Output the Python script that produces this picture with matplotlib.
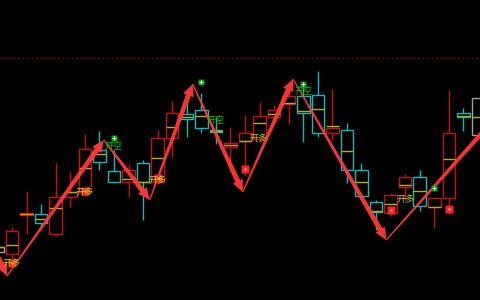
import numpy as np
import matplotlib
matplotlib.use("Agg")
from matplotlib import pyplot as plt
from matplotlib.patches import Rectangle, Polygon
from matplotlib.transforms import IdentityTransform

plt.rcParams['font.family'] = ['Noto Sans CJK SC', 'DejaVu Sans']

# candle data (price units), 'r' = up (red), 'c' = down (cyan), 'g' = flat
kind = ['g', 'r', 'r', 'c', 'r', 'r', 'r', 'c', 'c', 'r', 'c', 'r', 'r', 'c', 'c', 'c', 'r',
        'r', 'r', 'r', 'r', 'c', 'c', 'r', 'c', 'c', 'c', 'r', 'r', 'c', 'r', 'r', 'c', 'g']
body_top = [53, 69, 87, 86, 103, 108, 151, 150, 129, 130, 137, 162, 187, 186, 190, 170, 157,
            167, 184, 190, 204, 204, 205, 172, 170, 130, 98, 105, 123, 123, 102, 167, 187, 202]
body_bot = [48, 46, 85, 77, 66, 103, 108, 138, 118, 118, 118, 118, 162, 181, 172, 168, 153,
            159, 161, 183, 196, 187, 167, 167, 130, 104, 88, 87, 113, 94, 93, 102, 183, 165]
high = [55, 73, 109, 96, 137, 128, 166, 169, 150, 135, 140, 170, 199, 198, 207, 183, 173,
        185, 198, 195, 215, 215, 229, 211, 177, 137, 100, 107, 126, 130, 102, 210, 192, 202]
low = [45, 38, 66, 72, 65, 93, 108, 130, 117, 103, 80, 117, 143, 163, 167, 156, 128,
       124, 159, 176, 176, 158, 163, 160, 117, 100, 70, 84, 100, 89, 72, 86, 169, 165]
avg_line = [53, 55, 86, 81, 92, 108, 132, 146, np.nan, 121, 118, 142, 173, 183, 184, 169, 155,
            159, 177, 186, 197, 189, 191, 174, 149, 118, 89, 96, 115, 109, 93, 141, 184, 183]

# zigzag pivots (candle index, price)
zz_x = [-0.6, 0.65, 7.3, 10.45, 13.4, 16.85, 20.3, 26.7, 34.5]
zz_y = [64, 24, 160, 100, 216, 108, 221, 60, 187]

# signals
buy_x = [1, 6, 11, 17, 27, 31]
buy_y = [37, 109, 122, 131, 90, 91]
sell_x = [8, 14, 21, 30]
sell_y = [162, 218, 216, 112]
label_x = [0.95, 6.0, 8.0, 11.0, 15.0, 17.95, 21.05, 28.05]
label_y = [37, 108, 154, 120, 180, 162, 209, 101]
label_txt = ['开多', '开多', '开空', '开多', '开空', '开多', '开空', '开多']

LEVEL = 242

RED = '#c81010'
CYAN = '#10b8c0'
GREY = '#a0a0a0'
ARROW = '#ff3838'


def draw_candles(ax):
    colors = {'r': RED, 'c': CYAN, 'g': GREY}
    w = 0.86
    for i in range(len(kind)):
        col = colors[kind[i]]
        ax.vlines(i, low[i], high[i], color=col, lw=1, zorder=1)
        ax.add_patch(Rectangle((i - w / 2, body_bot[i]), w, body_top[i] - body_bot[i],
                               facecolor='black', edgecolor=col, lw=1, zorder=2))
        if not np.isnan(avg_line[i]):
            ax.hlines(avg_line[i], i - w / 2, i + w / 2, color='#b8b000', lw=1, zorder=3)


def tapered_arrow(ax, p0, p1, head=True):
    a = ax.transData.transform(p0)
    b = ax.transData.transform(p1)
    d = b - a
    length = np.hypot(d[0], d[1])
    u = d / length
    n = np.array([-u[1], u[0]])
    hl, hw = (12, 5.5) if head else (0, 0)
    base = b - u * hl
    w0, w1 = 0.6, 2.6
    pts = [a + n * w0, base + n * w1]
    if head:
        pts += [base + n * hw, b, base - n * hw]
    pts += [base - n * w1, a - n * w0]
    ax.add_patch(Polygon(pts, closed=True, facecolor=ARROW, edgecolor='none', alpha=0.95,
                         transform=IdentityTransform(), zorder=5))


fig = plt.figure(figsize=(4.8, 3), dpi=100, facecolor='black')
ax = fig.add_axes([0, 0, 1, 1])
ax.set_facecolor('black')
ax.set_xlim(0.17, 33.14)
ax.set_ylim(0, 300)
ax.axis('off')

ax.axhline(LEVEL, color='#b00000', lw=0.8, ls=(0, (1.5, 2.5)), zorder=0)
draw_candles(ax)

for k in range(len(zz_x) - 1):
    tapered_arrow(ax, (zz_x[k], zz_y[k]), (zz_x[k + 1], zz_y[k + 1]), head=(k < len(zz_x) - 2))

ax.plot(buy_x, buy_y, 's', ms=5.5, color='#ff2020', mec='none', zorder=6)
ax.plot(buy_x, buy_y, 's', ms=2, color='#ffd0d0', mec='none', zorder=7)
ax.plot(sell_x, sell_y, 's', ms=4.5, color='#00a000', mec='none', zorder=6)
ax.plot(sell_x, sell_y, '+', ms=3, color='#e0ffe0', mew=0.8, zorder=7)

for x, y, t in zip(label_x, label_y, label_txt):
    col = '#c8c800' if t == '开多' else '#00c000'
    ax.text(x, y, t, color=col, fontsize=6.5, ha='center', va='center', zorder=8)

fig.savefig('out.png', dpi=100, facecolor='black')
